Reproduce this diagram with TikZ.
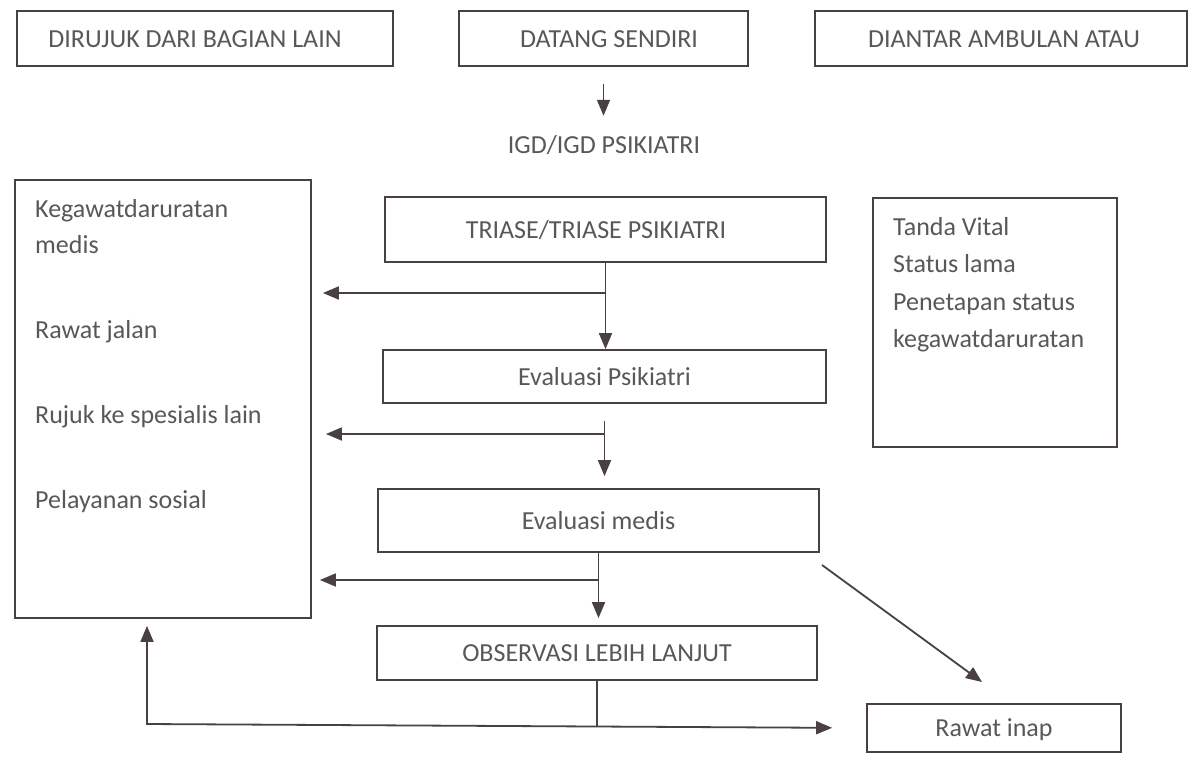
\documentclass[tikz,border=0pt]{standalone}
\usepackage{fontspec}
\setmainfont{Carlito}
\usetikzlibrary{arrows.meta}
\definecolor{linec}{RGB}{72,64,68}
\definecolor{textc}{RGB}{88,88,88}
\newcommand\fs{\fontsize{26}{37}\selectfont}
\begin{document}
\begin{tikzpicture}[x=1pt,y=-1pt,
  box/.style={draw=linec,line width=1.8pt,rectangle,inner sep=0pt,text=textc,font=\fs,text height=17pt,text depth=0pt},
  frame/.style={draw=linec,line width=1.8pt,rectangle,inner sep=0pt},
  txt/.style={text=textc,font=\fs,inner sep=0pt,anchor=base west},
  conn/.style={draw=linec,line width=1.8pt},
  arr/.style={conn,-{Triangle[length=16pt,width=13pt]}},
  dblarr/.style={conn,{Triangle[length=16pt,width=13pt]}-{Triangle[length=16pt,width=13pt]}}]
\useasboundingbox[fill=white] (0,0) rectangle (1190,756);

% top row
\node[box,minimum width=376pt,minimum height=55pt] (dirujuk) at (205,38.5) {\hspace*{-20pt}DIRUJUK DARI BAGIAN LAIN};
\node[box,minimum width=289pt,minimum height=55pt] (datang) at (603.5,38.5) {\hspace*{11pt}DATANG SENDIRI};
\node[box,minimum width=372pt,minimum height=55pt] (diantar) at (1001,38.5) {\hspace*{6pt}DIANTAR AMBULAN ATAU};

\node[text=textc,font=\fs,inner sep=0pt,anchor=base] (igd) at (604,153) {IGD/IGD PSIKIATRI};

% main column
\node[box,minimum width=441pt,minimum height=65pt] (triase) at (605.5,229.5) {\hspace*{-19pt}TRIASE/TRIASE PSIKIATRI};
\node[box,minimum width=443pt,minimum height=53pt] (evalp) at (604.5,376.5) {Evaluasi Psikiatri};
\node[box,minimum width=441pt,minimum height=63pt] (evalm) at (598.5,520.5) {Evaluasi medis};
\node[box,minimum width=440pt,minimum height=54pt] (obs) at (597,653) {OBSERVASI LEBIH LANJUT};
\node[box,minimum width=254pt,minimum height=48pt] (rawat) at (994,728) {Rawat inap};

% left box
\node[frame,minimum width=296pt,minimum height=438pt] (left) at (163,399) {};
\node[txt] (l1) at (35,217) {Kegawatdaruratan};
\node[txt] (l2) at (35,253) {medis};
\node[txt] (l3) at (35,338) {Rawat jalan};
\node[txt] (l4) at (35,423) {Rujuk ke spesialis lain};
\node[txt] (l5) at (35,508) {Pelayanan sosial};

% right box
\node[frame,minimum width=244pt,minimum height=249pt] (right) at (995,322.5) {};
\node[txt] (r1) at (893,235) {Tanda Vital};
\node[txt] (r2) at (893,272) {Status lama};
\node[txt] (r3) at (893,310) {Penetapan status};
\node[txt] (r4) at (893,347) {kegawatdaruratan};

% connectors
\draw[arr,shorten <=17pt,shorten >=19pt] (datang.south) -- (datang.south |- igd.north);

\draw[arr] (triase.south) -- (triase.south |- evalp.north);
\coordinate (b1) at (605.5,293);
\draw[arr,shorten >=11pt] (b1) -- (b1 -| left.east);

\draw[arr,shorten <=17pt,shorten >=12pt] (evalp.south) -- (evalp.south |- evalm.north);
\coordinate (b2) at (604.5,434);
\draw[arr,shorten >=14pt] (b2) -- (b2 -| left.east);

\draw[arr,shorten >=7pt] (evalm.south) -- (evalm.south |- obs.north);
\coordinate (b3) at (598.5,580);
\draw[arr,shorten >=8pt] (b3) -- (b3 -| left.east);

\coordinate (j) at (597,726);
\coordinate (jl) at (147,724);
\draw[conn] (obs.south) -- (j);
\draw[dblarr,shorten <=34pt,shorten >=7pt] (rawat.west) -- (jl) -- (jl |- left.south);

\coordinate (d1) at (822,565);
\coordinate (d2) at (982,682);
\draw[arr] (d1) -- (d2);
\end{tikzpicture}
\end{document}
